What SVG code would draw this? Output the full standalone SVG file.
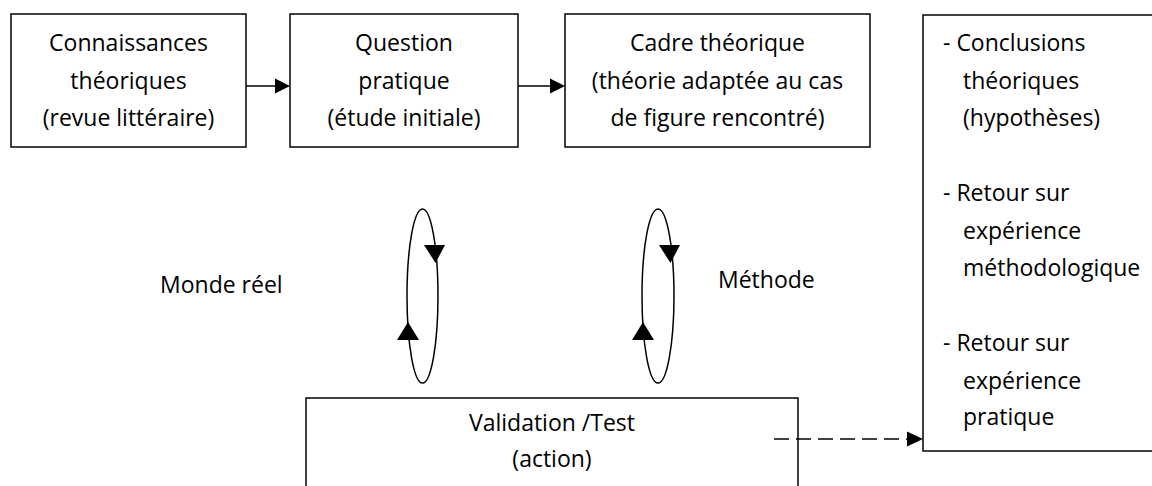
<svg xmlns="http://www.w3.org/2000/svg" width="1152" height="486" viewBox="0 0 1152 486">
<style>
.box{fill:#fff;stroke:#000;stroke-width:1.5}
text{font-family:"Open Sans","Liberation Sans",sans-serif;font-size:23px;fill:#000}
.c{text-anchor:middle}
.ln{fill:none;stroke:#000;stroke-width:1.5}
.ah{fill:#000}
</style>
<rect width="1152" height="486" fill="#fff"/>
<g id="n1">
<rect class="box" x="11" y="14" width="235" height="133"/>
<text class="c" x="128.5" y="51">Connaissances</text>
<text class="c" x="128.5" y="88.5">théoriques</text>
<text class="c" x="128.5" y="126">(revue littéraire)</text>
</g>
<g id="n2">
<rect class="box" x="290" y="14" width="228" height="133"/>
<text class="c" x="404" y="51">Question</text>
<text class="c" x="404" y="88.5">pratique</text>
<text class="c" x="404" y="126">(étude initiale)</text>
</g>
<g id="n3">
<rect class="box" x="565" y="14" width="305" height="133"/>
<text class="c" x="717.5" y="51">Cadre théorique</text>
<text class="c" x="717.5" y="88.5">(théorie adaptée au cas</text>
<text class="c" x="717.5" y="126">de figure rencontré)</text>
</g>
<g id="n4">
<rect class="box" x="923" y="15" width="240" height="436"/>
<text x="943" y="51">- Conclusions</text>
<text x="963" y="88.5">théoriques</text>
<text x="963" y="126">(hypothèses)</text>
<text x="943" y="201">- Retour sur</text>
<text x="963" y="238.5">expérience</text>
<text x="963" y="276">méthodologique</text>
<text x="943" y="351">- Retour sur</text>
<text x="963" y="388.5">expérience</text>
<text x="963" y="425">pratique</text>
</g>
<g id="n5">
<rect class="box" x="306" y="398" width="492" height="100"/>
<text class="c" x="552" y="431">Validation /Test</text>
<text class="c" x="552" y="467">(action)</text>
</g>
<g id="labels">
<text x="160" y="293">Monde réel</text>
<text x="718" y="288">Méthode</text>
</g>
<g id="connectors">
<line class="ln" x1="246" y1="86" x2="276" y2="86"/>
<polygon class="ah" points="275,78.5 290,86 275,93.5"/>
<line class="ln" x1="518" y1="86" x2="551" y2="86"/>
<polygon class="ah" points="550,78.5 565,86 550,93.5"/>
<line class="ln" x1="774" y1="439" x2="908" y2="439" stroke-dasharray="15 7"/>
<polygon class="ah" points="907,431.5 923,439 907,446.5"/>
<ellipse class="ln" cx="422.5" cy="296" rx="15.5" ry="87"/>
<polygon class="ah" points="424,245 445,245 435.5,263"/>
<polygon class="ah" points="397,340 419,340 408,322"/>
<ellipse class="ln" cx="658" cy="296" rx="16" ry="87"/>
<polygon class="ah" points="659,245 680,245 670.5,263"/>
<polygon class="ah" points="632,340 654,340 643,322"/>
</g>
</svg>
